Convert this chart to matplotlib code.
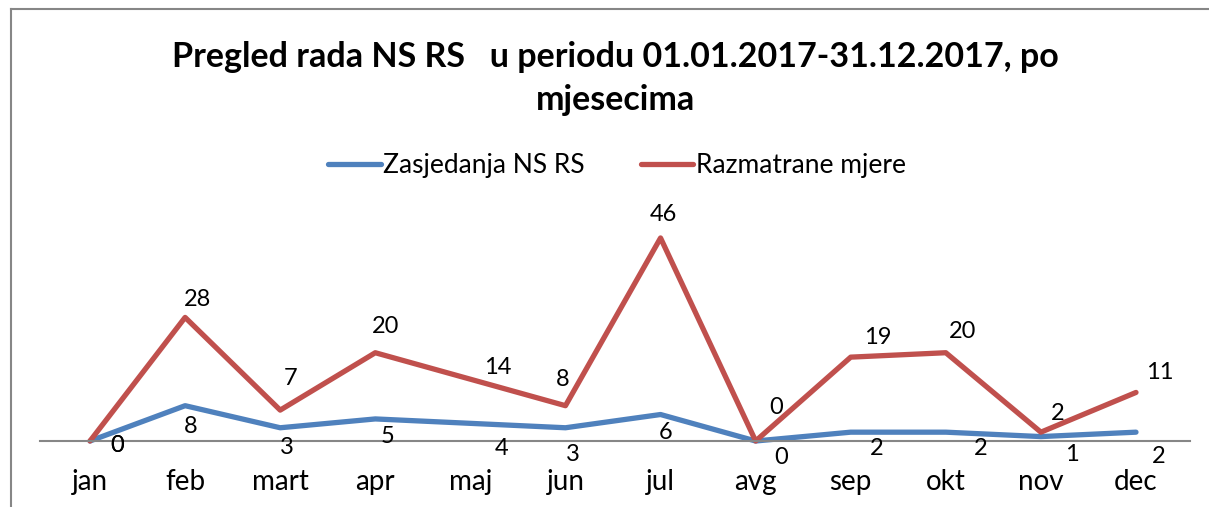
import matplotlib
matplotlib.use('Agg')
import matplotlib.pyplot as plt
from matplotlib.lines import Line2D

plt.rcParams['font.family'] = ['Lato', 'DejaVu Sans']

months = ['jan', 'feb', 'mart', 'apr', 'maj', 'jun', 'jul', 'avg', 'sep', 'okt', 'nov', 'dec']
zasjedanja = [0, 8, 3, 5, 4, 3, 6, 0, 2, 2, 1, 2]
mjere = [0, 28, 7, 20, 14, 8, 46, 0, 19, 20, 2, 11]

# label offsets in pixels (Excel placed these by hand)
off_blue = [(27, -4), (6, -21), (7, -20), (12, -18), (31, -25), (7, -27),
            (5, -18), (25, -16), (26, -16), (35, -16), (31, -18), (23, -24)]
off_red = [(27, -4), (12, 18), (10, 32), (10, 26), (27, 12), (-3, 26),
           (3, 23), (20, 34), (27, 20), (17, 21), (17, 19), (24, 20)]

W, H = 1209, 507
fig = plt.figure(figsize=(W / 100, H / 100), dpi=100)
ax = fig.add_axes([40 / W, (H - 441) / H, 1150 / W, 241 / H])

x = range(len(months))
ax.plot(x, zasjedanja, color='#4F81BD', lw=3.8, clip_on=False, solid_capstyle='round',
        label='Zasjedanja NS RS')
ax.plot(x, mjere, color='#C0504D', lw=3.8, clip_on=False, solid_capstyle='round',
        label='Razmatrane mjere')

pt2px = 100 / 72
for i, v in enumerate(zasjedanja):
    dx, dy = off_blue[i]
    ax.annotate(str(v), (i, v), xytext=(dx / pt2px, dy / pt2px), textcoords='offset points',
                ha='center', va='center', fontsize=17)
for i, v in enumerate(mjere):
    dx, dy = off_red[i]
    ax.annotate(str(v), (i, v), xytext=(dx / pt2px, dy / pt2px), textcoords='offset points',
                ha='center', va='center', fontsize=17)

ax.set_xlim(-0.526, 11.568)
ax.set_ylim(0, 54.6)
ax.set_xticks(list(x))
ax.set_xticklabels(months, fontsize=20)
ax.tick_params(axis='x', length=0, pad=20)
ax.set_yticks([])
for s in ['top', 'right', 'left']:
    ax.spines[s].set_visible(False)
ax.spines['bottom'].set_color('#868686')
ax.spines['bottom'].set_linewidth(1.5)

fig.text(615 / W, 1 - 57 / H, 'Pregled rada NS RS   u periodu 01.01.2017-31.12.2017, po',
         ha='center', va='center', fontsize=24.5, fontweight='bold')
fig.text(615 / W, 1 - 100 / H, 'mjesecima', ha='center', va='center',
         fontsize=24.5, fontweight='bold')

fig.legend(loc='center', bbox_to_anchor=(617 / W, 1 - 166 / H), ncol=2, frameon=False,
           fontsize=19, handlelength=2.0, handletextpad=0.1, columnspacing=2.1)

# chart area border (left and top edges visible)
fig.add_artist(Line2D([11 / W, 11 / W], [0, 1 - 9 / H], color='#868686', lw=1.5))
fig.add_artist(Line2D([11 / W, 1], [1 - 9 / H, 1 - 9 / H], color='#868686', lw=1.5))

fig.savefig('out.png', dpi=100)
